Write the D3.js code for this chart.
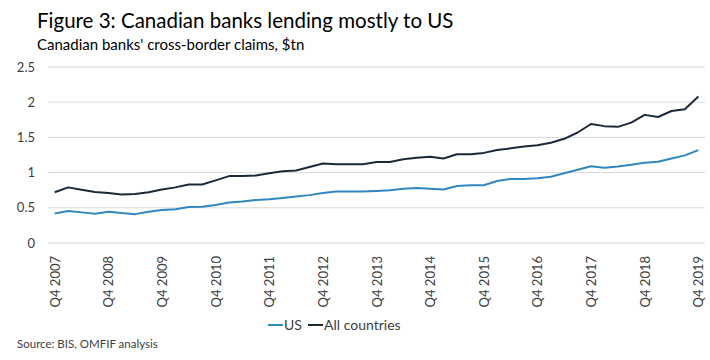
<!DOCTYPE html>
<html>
<head>
<meta charset="utf-8">
<script src="https://cdn.jsdelivr.net/npm/d3@7"></script>
<style>
  body { margin: 0; background: #fff; }
  svg { display: block; }
  text { font-family: Lato, "Open Sans", sans-serif; }
</style>
</head>
<body>
<svg id="chart" width="710" height="360"></svg>
<script>
// ---- data ----
const quarters = [];
for (let y = 2007; y <= 2019; y++) {
  const qs = (y === 2007) ? [4] : [1, 2, 3, 4];
  qs.forEach(q => quarters.push("Q" + q + " " + y));
}
const usValues = [
  0.42, 0.455, 0.435, 0.415, 0.445, 0.425, 0.41, 0.445, 0.47, 0.48, 0.51, 0.515,
  0.54, 0.575, 0.59, 0.61, 0.62, 0.64, 0.66, 0.68, 0.71, 0.73, 0.73, 0.73,
  0.74, 0.75, 0.77, 0.78, 0.77, 0.76, 0.81, 0.82, 0.82, 0.88, 0.91, 0.91,
  0.92, 0.94, 0.99, 1.04, 1.09, 1.07, 1.085, 1.11, 1.14, 1.155, 1.20, 1.245, 1.32
];
const allValues = [
  0.72, 0.79, 0.755, 0.725, 0.71, 0.69, 0.695, 0.72, 0.76, 0.79, 0.83, 0.83,
  0.89, 0.95, 0.95, 0.96, 0.99, 1.02, 1.03, 1.08, 1.13, 1.12, 1.12, 1.12,
  1.15, 1.15, 1.19, 1.21, 1.225, 1.20, 1.26, 1.26, 1.28, 1.32, 1.345, 1.37,
  1.39, 1.425, 1.48, 1.57, 1.69, 1.66, 1.65, 1.71, 1.82, 1.79, 1.875, 1.90, 2.08
];
const yTicks = [0, 0.5, 1, 1.5, 2, 2.5];
const xTickLabels = quarters.filter(q => q.startsWith("Q4"));
const seriesNames = ["US", "All countries"];
const seriesColors = ["#3287c0", "#1a2a3b"];

const svg = d3.select("#chart");

// titles
svg.append("text").attr("x", 37).attr("y", 28)
  .attr("font-size", 20.5).attr("fill", "#000")
  .text("Figure 3: Canadian banks lending mostly to US");
svg.append("text").attr("x", 37).attr("y", 50)
  .attr("font-size", 15).attr("fill", "#000")
  .text("Canadian banks' cross-border claims, $tn");

// scales
const x = d3.scalePoint().domain(quarters).range([48, 705]).padding(0.5);
const y = d3.scaleLinear().domain([0, 2.5]).range([243, 67]);

// gridlines
svg.append("g").selectAll("line").data(yTicks).join("line")
  .attr("x1", 48).attr("x2", 705)
  .attr("y1", d => y(d)).attr("y2", d => y(d))
  .attr("stroke", "#d9d9d9").attr("stroke-width", 1);

// y axis labels
const yAxis = d3.axisLeft(y).tickValues(yTicks).tickSize(0).tickPadding(0)
  .tickFormat(d => String(d));
const gy = svg.append("g").attr("transform", "translate(35,0)").call(yAxis);
gy.select(".domain").remove();
gy.selectAll("text").attr("font-size", 13).attr("fill", "#404040")
  .attr("font-family", "Lato, sans-serif");

// x axis labels
const xAxis = d3.axisBottom(x).tickValues(xTickLabels).tickSize(0).tickPadding(0);
const gx = svg.append("g").attr("transform", "translate(0,255)").call(xAxis);
gx.select(".domain").remove();
gx.selectAll("text")
  .attr("font-size", 13).attr("fill", "#404040")
  .attr("font-family", "Lato, sans-serif")
  .attr("transform", "rotate(-90)")
  .attr("text-anchor", "end")
  .attr("x", -1).attr("y", 0).attr("dy", "0.35em");

// lines
const line = d3.line().x((d, i) => x(quarters[i])).y(d => y(d));
[usValues, allValues].forEach((vals, k) => {
  svg.append("path").datum(vals)
    .attr("d", line).attr("fill", "none")
    .attr("stroke", seriesColors[k]).attr("stroke-width", 2)
    .attr("stroke-linejoin", "round");
});

// legend
seriesNames.forEach((name, k) => {
  const lx = k === 0 ? 268 : 308;
  svg.append("line").attr("x1", lx).attr("x2", lx + 15)
    .attr("y1", 325).attr("y2", 325)
    .attr("stroke", seriesColors[k]).attr("stroke-width", 2);
  svg.append("text").attr("x", lx + 16).attr("y", 330)
    .attr("font-size", 14).attr("fill", "#404040").text(name);
});

// source
svg.append("text").attr("x", 17).attr("y", 348)
  .attr("font-size", 11.5).attr("fill", "#404040")
  .text("Source: BIS, OMFIF analysis");
</script>
</body>
</html>
